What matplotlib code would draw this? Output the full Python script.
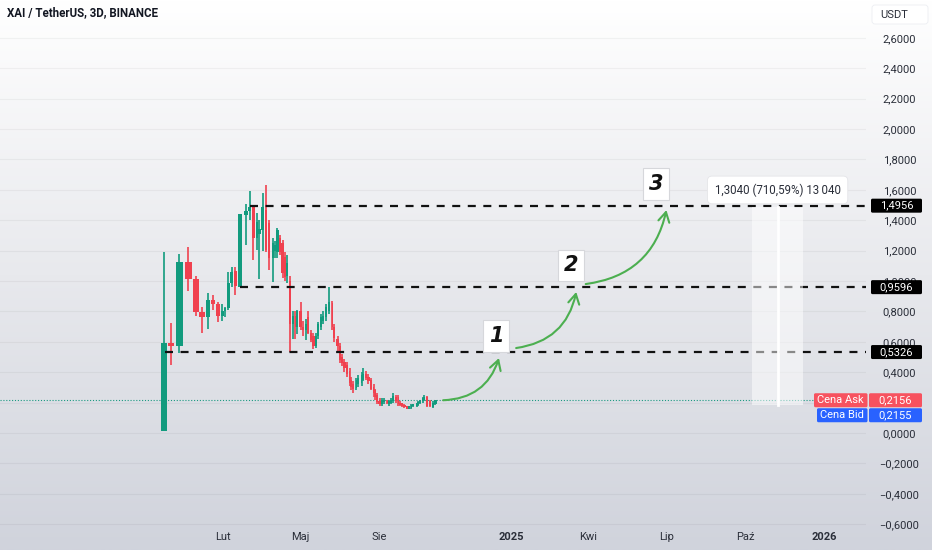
import matplotlib
matplotlib.use("Agg")
import matplotlib.pyplot as plt
from matplotlib.patches import FancyBboxPatch, Rectangle
from matplotlib.colors import LinearSegmentedColormap
import matplotlib.dates as mdates
import numpy as np
import pandas as pd

plt.rcParams["font.family"] = ["Roboto", "DejaVu Sans"]

# --- data (3D candles, XAI/USDT) ---
start = pd.Timestamp("2023-11-23")
bar_day = [1, 9, 19, 29, 38, 45, 52, 58, 64, 69, 72, 76, 80, 84, 89, 96, 101,
           105, 109, 112, 116, 120, 123, 128, 130, 133, 136, 139, 142, 144, 148,
           151, 154, 156, 160, 163, 166, 169, 172, 175, 178, 180, 184, 186, 190,
           193, 197, 199, 203, 206, 208, 211, 214, 217, 219, 221, 225, 227, 231,
           233, 236, 239, 242, 245, 247, 249, 252, 255, 257, 261, 263, 265, 268,
           271, 274, 276, 278, 281, 284, 286, 289, 291, 295, 297, 299, 302, 304,
           307, 311, 314, 317]
opens = [0.01, 0.594, 0.572, 1.123, 1.013, 0.798, 0.765, 0.875, 0.849, 0.770,
         0.80, 0.82, 0.989, 1.068, 0.963, 1.434, 1.462,
         1.489, 1.281, 1.31, 1.336, 1.467, 1.38, 1.15, 1.20, 1.193, 1.28, 1.25,
         1.16, 1.03, 1.00, 0.72, 0.77, 0.70, 0.80, 0.70, 0.68, 0.76, 0.66, 0.64,
         0.57, 0.64, 0.70, 0.74, 0.765, 0.80, 0.855, 0.70, 0.62, 0.57,
         0.50, 0.47, 0.45, 0.41, 0.35, 0.32, 0.296, 0.32, 0.33, 0.35, 0.39, 0.37,
         0.35, 0.30, 0.283, 0.25, 0.21, 0.19, 0.205, 0.205, 0.19, 0.20, 0.212,
         0.24, 0.24, 0.20, 0.195, 0.185, 0.175, 0.16, 0.165, 0.18, 0.18, 0.185,
         0.195, 0.21, 0.217, 0.237, 0.21, 0.173, 0.19]
highs = [1.19, 0.726, 1.18, 1.226, 1.03, 0.831, 0.919, 0.908, 0.864, 0.85,
         0.83, 1.061, 1.09, 1.094, 1.44, 1.507, 1.592,
         1.50, 1.447, 1.40, 1.577, 1.632, 1.40, 1.28, 1.26, 1.35, 1.30, 1.27,
         1.19, 1.17, 1.03, 0.80, 0.80, 0.81, 0.864, 0.74, 0.75, 0.80, 0.68, 0.66,
         0.66, 0.73, 0.78, 0.80, 0.85, 0.96, 0.87, 0.72, 0.64, 0.59,
         0.52, 0.49, 0.47, 0.43, 0.37, 0.34, 0.36, 0.38, 0.40, 0.43, 0.41, 0.39,
         0.36, 0.32, 0.29, 0.26, 0.23, 0.23, 0.23, 0.22, 0.22, 0.23, 0.26,
         0.25, 0.25, 0.21, 0.20, 0.19, 0.18, 0.18, 0.19, 0.19, 0.20, 0.21,
         0.22, 0.24, 0.25, 0.245, 0.22, 0.21, 0.22]
lows = [0.01, 0.447, 0.528, 0.936, 0.77, 0.656, 0.682, 0.809, 0.732, 0.74,
        0.76, 0.809, 0.96, 0.908, 0.96, 1.237, 1.401,
        1.138, 1.204, 1.01, 1.20, 1.19, 1.072, 0.995, 1.15, 1.15, 1.17, 1.02,
        1.00, 0.99, 0.53, 0.62, 0.62, 0.65, 0.68, 0.64, 0.61, 0.65, 0.60, 0.555,
        0.56, 0.62, 0.68, 0.72, 0.74, 0.78, 0.68, 0.60, 0.54, 0.46,
        0.44, 0.40, 0.37, 0.31, 0.28, 0.263, 0.28, 0.30, 0.31, 0.34, 0.35, 0.32,
        0.28, 0.24, 0.22, 0.19, 0.178, 0.18, 0.19, 0.19, 0.18, 0.19, 0.20,
        0.20, 0.18, 0.18, 0.17, 0.165, 0.155, 0.155, 0.16, 0.17, 0.17, 0.18,
        0.19, 0.20, 0.21, 0.17, 0.17, 0.165, 0.185]
closes = [0.59, 0.572, 1.127, 1.013, 0.798, 0.765, 0.875, 0.849, 0.770, 0.80,
          0.82, 0.989, 1.061, 0.967, 1.439, 1.462, 1.489,
          1.281, 1.39, 1.34, 1.489, 1.204, 1.149, 1.25, 1.24, 1.336, 1.19, 1.05,
          1.028, 1.12, 0.72, 0.77, 0.70, 0.80, 0.70, 0.68, 0.72, 0.66, 0.61, 0.57,
          0.64, 0.72, 0.765, 0.77, 0.83, 0.864, 0.70, 0.623, 0.57, 0.48,
          0.46, 0.43, 0.39, 0.33, 0.30, 0.29, 0.349, 0.36, 0.38, 0.39, 0.36, 0.34,
          0.29, 0.26, 0.239, 0.206, 0.19, 0.22, 0.215, 0.20, 0.21, 0.22, 0.243,
          0.21, 0.19, 0.185, 0.178, 0.17, 0.16, 0.175, 0.185, 0.185, 0.195, 0.205,
          0.215, 0.23, 0.237, 0.178, 0.18, 0.20, 0.2156]

levels = [1.4956, 0.9596, 0.5326]
level_from_day = [101, 89, 2]
ask_price = 0.2156
bid_price = 0.2155

step_labels = ["1", "2", "3"]
step_day = [388, 475, 574]
step_price = [0.638, 1.102, 1.638]
arrow_from_day = [326, 411, 492]
arrow_from_price = [0.2156, 0.559, 0.98]
arrow_to_day = [391, 481, 586]
arrow_to_price = [0.493, 0.928, 1.467]

measure_day = [686, 745]
measure_low, measure_high = 0.1835, 1.4875
measure_text = "1,3040 (710,59%) 13\u2009040"

y_ticks = [-0.6, -0.4, -0.2, 0.0, 0.2, 0.4, 0.6, 0.8, 1.0, 1.2, 1.4, 1.6,
           1.8, 2.0, 2.2, 2.4, 2.6]
x_tick_dates = ["2024-02-01", "2024-05-01", "2024-08-01", "2025-01-01",
                "2025-04-01", "2025-07-01", "2025-10-01", "2026-01-01"]
x_tick_labels = ["Lut", "Maj", "Sie", "2025", "Kwi", "Lip", "Paź", "2026"]

GREEN = "#129b7e"
RED = "#f0414f"
TXT = "#2a2e39"
FS = 8


def day(d):
    return mdates.date2num(start + pd.Timedelta(days=d))


def fmt(v):
    return f"{v:.4f}".replace(".", ",").replace("-", "\u2212")


fig = plt.figure(figsize=(9.32, 5.5), dpi=100)

# gradient background
bg = fig.add_axes([0, 0, 1, 1], zorder=-2)
cmap = LinearSegmentedColormap.from_list("bg", ["#ffffff", "#e8e9ed", "#d0d3dc"])
bg.imshow(np.linspace(0, 1, 256).reshape(-1, 1), aspect="auto", cmap=cmap,
          extent=[0, 1, 0, 1])
bg.axis("off")

ax = fig.add_axes([0, 0, 866 / 932, 1])
ax.patch.set_alpha(0)
ax.set_xlim(day(-190), day(818.4))
ax.set_ylim(-0.7697, 2.8487)
for s in ax.spines.values():
    s.set_visible(False)

# grid and price scale (0,2000 sits under the ask/bid tags, as in the original)
ax.set_yticks(y_ticks)
ax.set_yticklabels(["" if abs(v - 0.2) < 1e-9 else fmt(v) for v in y_ticks])
ax.yaxis.grid(True, color="#000000", alpha=0.045, lw=0.9)
ax.set_axisbelow(True)
ax.yaxis.tick_right()
ax.tick_params(axis="y", length=0, pad=24, labelsize=FS, labelcolor=TXT)
for lbl in ax.get_yticklabels():
    lbl.set_ha("center")

ax.set_xticks([mdates.date2num(pd.Timestamp(d)) for d in x_tick_dates])
ax.set_xticklabels(x_tick_labels)
ax.tick_params(axis="x", length=0, pad=-12.8, labelsize=FS, labelcolor=TXT)
for lbl in ax.get_xticklabels():
    if lbl.get_text().isdigit():
        lbl.set_fontweight("bold")

# candles
xs = np.array([day(d) for d in bar_day])
gaps = np.diff(xs)
left = np.r_[gaps[0], gaps]
right = np.r_[gaps, gaps[-1]]
widths = 0.9 * np.minimum(left, right)
o = np.array(opens)
c = np.array(closes)
cols = [GREEN if cc >= oo else RED for oo, cc in zip(o, c)]
ax.vlines(xs, lows, highs, colors=cols, lw=1.2, zorder=3)
ax.bar(xs, np.maximum(np.abs(c - o), 0.01), bottom=np.minimum(o, c),
       width=widths, color=cols, zorder=4, linewidth=0)

# last price line
ax.axhline(ask_price, color="#1a9a80", lw=0.8, ls=(0, (1, 1.6)), zorder=2)

# levels
for lv, d0 in zip(levels, level_from_day):
    ax.plot([day(d0), ax.get_xlim()[1]], [lv, lv], color="#111111", lw=1.6,
            dashes=(3.6, 3.4), zorder=5)

# measure tool
mx0, mx1 = day(measure_day[0]), day(measure_day[1])
ax.add_patch(Rectangle((mx0, measure_low), mx1 - mx0, measure_high - measure_low,
                       facecolor="white", alpha=0.5, edgecolor="none", zorder=6))
ax.plot([(mx0 + mx1) / 2] * 2, [measure_low, measure_high], color="white", lw=2,
        zorder=7)
ax.text((mx0 + mx1) / 2, 1.599, measure_text, ha="center", va="center",
        fontsize=8.3, color=TXT, zorder=8,
        bbox=dict(boxstyle="round,pad=0.62,rounding_size=0.4", fc="white",
                  ec="#e4e5e8", lw=0.6))

# steps and arrows
for lab, d, p in zip(step_labels, step_day, step_price):
    ax.text(day(d), p, lab, ha="center", va="center", fontsize=15,
            fontweight="bold", fontstyle="italic", family="DejaVu Sans",
            color="#111111", zorder=9,
            bbox=dict(boxstyle="square,pad=0.28", fc="white", ec="#d6d7db", lw=0.8))
for d0, p0, d1, p1 in zip(arrow_from_day, arrow_from_price, arrow_to_day, arrow_to_price):
    ax.annotate("", xy=(day(d1), p1), xytext=(day(d0), p0), zorder=8,
                arrowprops=dict(arrowstyle="->,head_length=0.7,head_width=0.4",
                                connectionstyle="arc3,rad=0.35", color="#4caf50",
                                lw=1.5, shrinkA=0, shrinkB=0))

# overlay in pixel units for the price-scale tags
ov = fig.add_axes([0, 0, 1, 1], zorder=10)
ov.set_xlim(0, 932)
ov.set_ylim(550, 0)
ov.axis("off")
ov.patch.set_alpha(0)


def py(p):
    return 550 - ax.transData.transform((ax.get_xlim()[0], p))[1]


def tag(x0, x1, yc, text, face):
    ov.add_patch(FancyBboxPatch((x0, yc - 7), x1 - x0, 14,
                                boxstyle="round,pad=0,rounding_size=1.5",
                                fc=face, ec="none"))
    ov.text((x0 + x1) / 2, yc, text, ha="center", va="center", color="white",
            fontsize=FS)


for lv in levels:
    tag(871, 922, py(lv), fmt(lv), "#000000")
tag(869, 922, py(ask_price), fmt(ask_price), "#f7525f")
tag(869, 922, py(bid_price) + 15, fmt(bid_price), "#2962ff")
tag(814, 867.5, py(ask_price), "Cena Ask", "#f7525f")
tag(817, 867.5, py(bid_price) + 15, "Cena Bid", "#2962ff")

ov.add_patch(FancyBboxPatch((872, 5), 56, 19, boxstyle="round,pad=0,rounding_size=3",
                            fc="white", ec="#eceef2", lw=0.6))
ov.text(894, 14.5, "USDT", ha="center", va="center", fontsize=FS, color=TXT)
ov.text(7, 13, "XAI / TetherUS, 3D, BINANCE", ha="left", va="center",
        fontsize=8.3, fontweight="bold", color="#131722")

fig.savefig("out.png", dpi=100)
